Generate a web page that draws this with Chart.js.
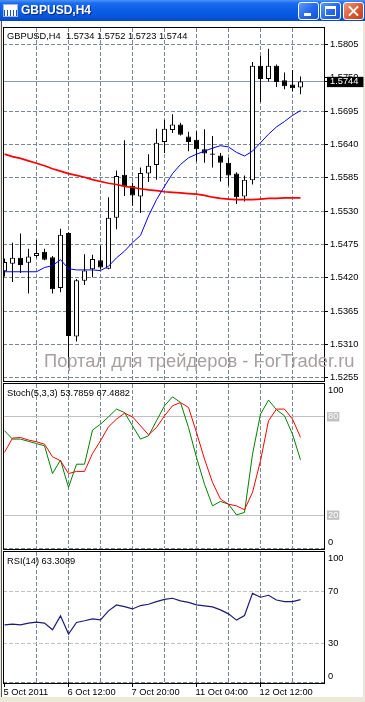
<!DOCTYPE html>
<html>
<head>
<meta charset="utf-8">
<title>GBPUSD,H4</title>
<script src="https://cdn.jsdelivr.net/npm/chart.js@4.4.1/dist/chart.umd.min.js"></script>
<style>
html,body{margin:0;padding:0;}
body{position:relative;width:365px;height:702px;overflow:hidden;background:#ECE9D8;font-family:'Liberation Sans',Arial,sans-serif;}
#titlebar{position:absolute;left:0;top:0;width:365px;height:21px;background:linear-gradient(#4A95F8 0%,#1C6BEF 15%,#0A5DE4 50%,#0556DC 80%,#0447C2 100%);}
#titletext{position:absolute;left:21px;top:2px;font:bold 12px 'Liberation Sans',Arial,sans-serif;line-height:16px;color:#fff;text-shadow:1px 1px 0 #0B2A80;white-space:pre;}
#icon{position:absolute;left:3px;top:4px;width:13px;height:11px;border:1px solid #9FB7E6;background:repeating-linear-gradient(90deg,#2050C0 0 1px,#fff 1px 3px) left bottom/100% 6px no-repeat,#fff;}
.btn{position:absolute;top:2px;width:21px;height:18px;box-sizing:border-box;border:1px solid #fff;border-radius:3px;background:linear-gradient(135deg,#5C9BFF,#2466EC 55%,#1A52D2);}
#bmin{left:298px;}#bmax{left:320px;}
#bclose{left:343px;background:linear-gradient(135deg,#EE9A7E,#DC5733 55%,#C23E1B);}
#bmin i{position:absolute;left:5px;top:10px;width:7px;height:3px;background:#fff;}
#bmax i{position:absolute;left:4px;top:3px;width:11px;height:10px;box-sizing:border-box;border:1px solid #fff;border-top-width:3px;}
#bclose i,#bclose b{position:absolute;left:3px;top:7px;width:13px;height:2px;background:#fff;}
#bclose i{transform:rotate(45deg);}#bclose b{transform:rotate(-45deg);}
#client{position:absolute;left:1px;top:21px;width:362px;height:676px;box-sizing:border-box;background:#fff;border-left:1px solid #555;}
canvas{position:absolute;left:0;}
.lbl{position:absolute;left:7px;font-size:9.3px;line-height:11px;color:#000;white-space:pre;}
#wm{position:absolute;left:44px;top:352px;font-size:18.3px;line-height:18px;color:#A8A0A0;white-space:pre;}
</style>
</head>
<body>
<div id="client"></div>
<canvas id="cMain" width="365" height="360" style="top:24px"></canvas>
<canvas id="cStoch" width="365" height="169" style="top:381px"></canvas>
<canvas id="cRsi" width="365" height="153" style="top:549px"></canvas>
<div class="lbl" id="hMain" style="top:31px"></div>
<div class="lbl" id="hStoch" style="top:388px"></div>
<div class="lbl" id="hRsi" style="top:556px"></div>
<div id="wm">Портал для трейдеров - ForTrader.ru</div>
<div id="titlebar"><div id="icon"></div><div id="titletext">GBPUSD,H4</div>
<div class="btn" id="bmin"><i></i></div><div class="btn" id="bmax"><i></i></div><div class="btn" id="bclose"><i></i><b></b></div></div>
<script>
// ---------- data ----------
const symbol = 'GBPUSD,H4';
const open  = [1.5431,1.5443,1.5453,1.5445,1.5456,1.5463,1.5454,1.5403,1.5494,1.5323,1.5415,1.5434,1.5449,1.5435,1.5519,1.5590,1.5572,1.5554,1.5592,1.5606,1.5644,1.5664,1.5673,1.5653,1.5648,1.5632,1.5625,1.5622,1.5610,1.5592,1.5554,1.5581,1.5770,1.5748,1.5770,1.5746,1.5739,1.5734];
const high  = [1.5452,1.5478,1.5493,1.5468,1.5483,1.5468,1.5456,1.5501,1.5495,1.5418,1.5459,1.5458,1.5473,1.5553,1.5597,1.5647,1.5577,1.5602,1.5624,1.5666,1.5681,1.5690,1.5676,1.5661,1.5662,1.5665,1.5654,1.5626,1.5618,1.5594,1.5589,1.5776,1.5786,1.5798,1.5772,1.5759,1.5763,1.5752];
const low   = [1.5422,1.5413,1.5428,1.5394,1.5453,1.5449,1.5394,1.5396,1.5272,1.5315,1.5408,1.5421,1.5434,1.5434,1.5500,1.5555,1.5539,1.5527,1.5578,1.5582,1.5626,1.5659,1.5655,1.5629,1.5612,1.5610,1.5602,1.5579,1.5572,1.5542,1.5546,1.5574,1.5710,1.5744,1.5735,1.5731,1.5728,1.5723];
const close = [1.5446,1.5453,1.5441,1.5455,1.5461,1.5450,1.5401,1.5491,1.5324,1.5416,1.5432,1.5451,1.5437,1.5519,1.5588,1.5571,1.5556,1.5593,1.5605,1.5643,1.5666,1.5673,1.5656,1.5644,1.5632,1.5625,1.5623,1.5610,1.5589,1.5553,1.5582,1.5770,1.5748,1.5770,1.5743,1.5736,1.5733,1.5744];
const maFast = [1.5430,1.5430,1.5430,1.5430,1.5430,1.5437,1.5440,1.5450,1.5435,1.5433,1.5433,1.5433,1.5432,1.5439,1.5453,1.5464,1.5478,1.5490,1.5522,1.5549,1.5571,1.5592,1.5607,1.5618,1.5624,1.5629,1.5634,1.5638,1.5636,1.5627,1.5621,1.5629,1.5643,1.5657,1.5669,1.5678,1.5688,1.5696];
const maSlow = [1.5624,1.5620,1.5617,1.5613,1.5609,1.5605,1.5600,1.5596,1.5592,1.5589,1.5586,1.5582,1.5579,1.5576,1.5574,1.5571,1.5569,1.5567,1.5565,1.5564,1.5562,1.5561,1.5560,1.5559,1.5558,1.5556,1.5553,1.5551,1.5550,1.5549,1.5549,1.5549,1.5550,1.5551,1.5551,1.5552,1.5552,1.5552];
const stochMain   = [71.5,66.4,66.4,65.0,63.7,62.3,45.4,53.6,36.9,51.1,51.1,71.9,75.5,80.0,84.7,82.6,74.5,66.4,68.4,77.6,86.7,92.2,88.7,73.5,55.2,38.9,25.7,28.4,26.7,20.2,21.7,57.2,81.6,90.2,84.3,80.6,69.4,53.7859];
const stochSignal = [58.3,67.0,67.4,65.8,64.8,63.3,55.6,53.2,45.4,46.7,46.7,57.6,65.4,73.9,78.6,82.2,80.0,74.5,69.0,73.5,80.6,86.7,88.7,85.7,70.4,54.2,40.0,29.8,26.7,25.7,23.3,33.9,53.2,77.6,84.7,84.7,78.6,67.4882];
const rsi = [44.0,44.5,44.0,45.3,46.0,45.3,40.2,50.9,36.9,45.8,47.1,48.6,47.8,54.7,59.3,58.0,56.2,58.8,59.8,61.8,63.6,64.4,62.4,61.3,59.3,58.5,57.8,55.5,52.4,47.6,51.1,68.2,65.2,66.7,63.1,61.8,61.8,63.3089];
const priceTicks = [1.5805,1.5750,1.5695,1.5640,1.5585,1.5530,1.5475,1.5420,1.5365,1.5310,1.5255];
const stochTicks = [100,80,20,0];
const stochLevels = [80,20];
const rsiTicks = [100,70,30,0];
const rsiLevels = [70,30];
const timeLabels = ['5 Oct 2011','6 Oct 12:00','7 Oct 20:00','11 Oct 04:00','12 Oct 12:00'];
const timeLabelBars = [0,8,16,24,32];
const gridBars = [4,8,12,16,20,24,28,32,36];

// ---------- view settings ----------
const X_MIN = -0.1875, X_MAX = 39.9375;
const Y_MIN = 1.524972, Y_MAX = 1.583223;
const FONT = "'Liberation Sans', Arial, sans-serif";
const GRID = '#778899';
const DASH = [4, 2];
const last = close.length - 1;
const lastClose = close[last];
const NONE = 'rgba(0,0,0,0)';
const tv = c => (c && c.tick) ? c.tick.value : NaN;

document.getElementById('hMain').textContent = symbol + '  ' + [open[last], high[last], low[last], close[last]].map(v => v.toFixed(4)).join(' ');
document.getElementById('hStoch').textContent = 'Stoch(5,3,3) ' + stochMain[last].toFixed(4) + ' ' + stochSignal[last].toFixed(4);
document.getElementById('hRsi').textContent = 'RSI(14) ' + rsi[last].toFixed(4);

const framePlugin = {
  id: 'frame',
  afterDraw(chart, args, opts) {
    const a = chart.chartArea, c = chart.ctx;
    const off = opts.bottomOffset || 0;
    const l = Math.round(a.left) + 0.5, r = Math.round(a.right) + 0.5;
    const t = Math.round(a.top) - 0.5, b = Math.round(a.bottom) + off + 0.5;
    c.save(); c.strokeStyle = '#000'; c.lineWidth = 1;
    c.strokeRect(l, t, r - l, b - t);
    c.restore();
  }
};

function gridX(extra) {
  return Object.assign({
    type: 'linear', position: 'bottom', min: X_MIN, max: X_MAX, bounds: 'data', offset: false,
    afterBuildTicks: s => { s.ticks = gridBars.map(v => ({value: v})); },
    afterFit: s => { s.height = 0; s.paddingLeft = 0; s.paddingRight = 0; },
    ticks: {display: false, autoSkip: false},
    grid: {color: GRID, drawTicks: false, offset: false},
    border: {display: false, dash: DASH}
  }, extra || {});
}
const pts = arr => arr.map((v, i) => ({x: i, y: v}));
const edgeLabel = (lo, hi) => v => v === hi ? ['', String(v)] : (v === lo ? [String(v), ''] : String(v));
const base = (pad, bottomOffset) => ({
  responsive: false, animation: false, events: [], devicePixelRatio: 1,
  layout: {padding: pad},
  plugins: {legend: {display: false}, tooltip: {enabled: false}, frame: {bottomOffset}}
});

// ---------- main price chart ----------
const mainOpts = base({left: 3, right: 0, top: 4, bottom: 3}, 0);
mainOpts.scales = {
  x: gridX(),
  y: {
    type: 'linear', position: 'right', min: Y_MIN, max: Y_MAX, bounds: 'data', beginAtZero: false,
    afterBuildTicks: s => { s.ticks = priceTicks.concat([lastClose]).map(v => ({value: v})); },
    afterFit: s => { s.width = 41; s.paddingTop = 0; s.paddingBottom = 0; },
    ticks: {
      autoSkip: false, padding: 2,
      callback: v => v.toFixed(4),
      color: c => tv(c) === lastClose ? '#fff' : '#000',
      font: {family: FONT, size: 9.3, lineHeight: 1},
      showLabelBackdrop: c => tv(c) === lastClose,
      backdropColor: '#000',
      backdropPadding: {left: 3, right: 5, top: 0, bottom: 1}
    },
    grid: {
      color: c => {
        const v = tv(c);
        if (v === lastClose) return '#8C9CAC';
        if (Math.abs(v - lastClose) < 0.0009) return NONE;
        return GRID;
      },
      tickColor: '#000', tickLength: 4, drawTicks: true
    },
    border: {display: false, dash: c => tv(c) === lastClose ? [] : DASH}
  }
};
new Chart(document.getElementById('cMain'), {
  type: 'bar',
  data: {datasets: [
    {type: 'line', data: pts(maFast), borderColor: '#0000FF', borderWidth: 1, pointRadius: 0, tension: 0, order: 0},
    {type: 'line', data: pts(maSlow), borderColor: '#FF0000', borderWidth: 1.7, pointRadius: 0, tension: 0, order: 0},
    {type: 'bar', data: open.map((o, i) => ({x: i, y: [o, close[i]]})),
      backgroundColor: open.map((o, i) => close[i] >= o ? '#FFFFFF' : '#000000'),
      borderColor: '#000000', borderWidth: 1, borderSkipped: false, inflateAmount: 0,
      barThickness: 5, grouped: false, order: 1},
    {type: 'bar', data: low.map((l, i) => ({x: i, y: [l, high[i]]})),
      backgroundColor: '#000000', borderWidth: 0, inflateAmount: 0,
      barThickness: 1, grouped: false, order: 2}
  ]},
  options: mainOpts,
  plugins: [framePlugin]
});

// ---------- indicator value axis ----------
function levelAxis(ticksArr, levels, boxed, levelDash) {
  const isLvl = v => levels.includes(v);
  return {
    type: 'linear', position: 'right', min: 0, max: 100, bounds: 'data', beginAtZero: false,
    afterBuildTicks: s => { s.ticks = ticksArr.map(v => ({value: v})); },
    afterFit: s => { s.width = 41; s.paddingTop = 0; s.paddingBottom = 0; },
    ticks: {
      autoSkip: false, padding: 0,
      callback: edgeLabel(0, 100),
      color: c => (boxed && isLvl(tv(c))) ? '#fff' : '#000',
      font: c => ({family: FONT, size: 9.3, lineHeight: (tv(c) === 0 || tv(c) === 100) ? 1.3 : 1}),
      showLabelBackdrop: c => boxed && isLvl(tv(c)),
      backdropColor: '#C0C0C0',
      backdropPadding: {left: 1, right: 1, top: 0, bottom: 0}
    },
    grid: {
      color: c => isLvl(tv(c)) ? '#C0C0C0' : (tv(c) === 0 ? GRID : NONE),
      tickColor: NONE, tickLength: 4, drawTicks: true
    },
    border: {display: false, dash: c => isLvl(tv(c)) ? levelDash : DASH}
  };
}

// ---------- stochastic ----------
const stochOpts = base({left: 3, right: 0, top: 3, bottom: 2}, 1);
stochOpts.scales = {x: gridX(), y: levelAxis(stochTicks, stochLevels, true, [])};
new Chart(document.getElementById('cStoch'), {
  type: 'line',
  data: {datasets: [
    {data: pts(stochSignal), borderColor: '#FF0000', borderWidth: 1, pointRadius: 0, tension: 0},
    {data: pts(stochMain), borderColor: '#008000', borderWidth: 1, pointRadius: 0, tension: 0}
  ]},
  options: stochOpts,
  plugins: [framePlugin]
});

// ---------- RSI ----------
const rsiOpts = base({left: 3, right: 0, top: 3, bottom: 0}, 1);
rsiOpts.scales = {
  x: gridX(),
  xt: {
    type: 'linear', position: 'bottom', min: X_MIN, max: X_MAX, bounds: 'data', offset: false,
    afterBuildTicks: s => { s.ticks = timeLabelBars.map(v => ({value: v})); },
    afterFit: s => { s.height = 20; s.paddingLeft = 0; s.paddingRight = 0; },
    ticks: {
      autoSkip: false, maxRotation: 0, minRotation: 0, align: 'start', labelOffset: -1, padding: 0,
      color: '#000', font: {family: FONT, size: 9.3},
      callback: v => timeLabels[timeLabelBars.indexOf(v)]
    },
    grid: {drawOnChartArea: false, drawTicks: true, tickLength: 5, tickColor: '#000', offset: false},
    border: {display: false}
  },
  y: levelAxis(rsiTicks, rsiLevels, false, DASH)
};
new Chart(document.getElementById('cRsi'), {
  type: 'line',
  data: {datasets: [
    {data: pts(rsi), xAxisID: 'x', borderColor: '#1C1C78', borderWidth: 1.2, pointRadius: 0, tension: 0}
  ]},
  options: rsiOpts,
  plugins: [framePlugin]
});
</script>
</body>
</html>
